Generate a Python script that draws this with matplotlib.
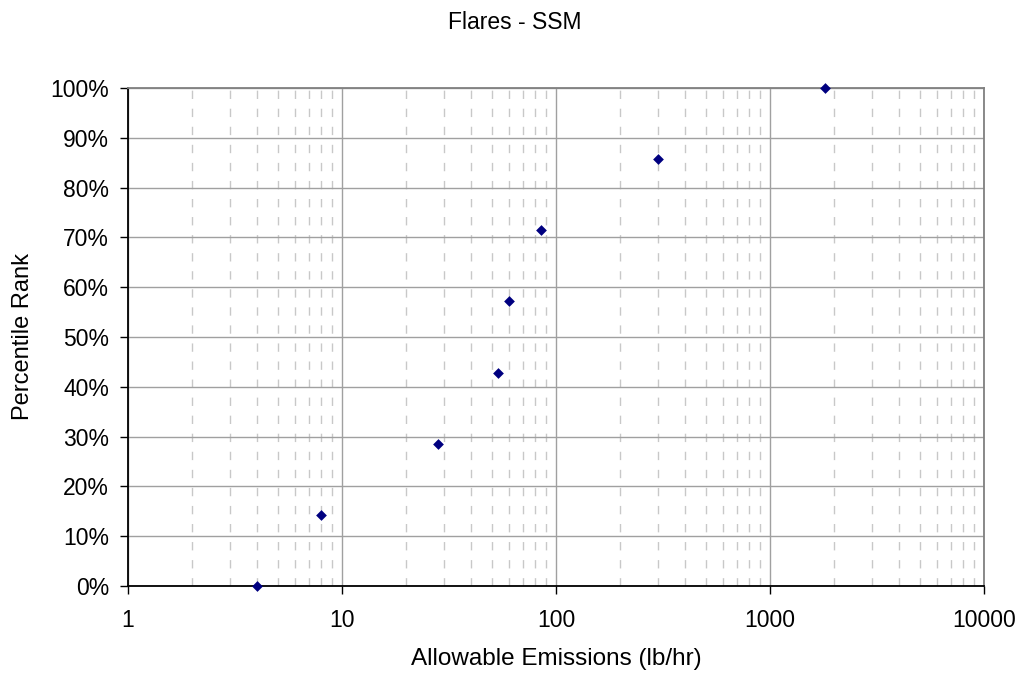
import matplotlib
matplotlib.use("Agg")
import matplotlib.pyplot as plt
from matplotlib.ticker import FixedLocator, FixedFormatter, LogLocator, NullFormatter, PercentFormatter

plt.rcParams['font.family'] = ['Liberation Sans', 'DejaVu Sans']

# Allowable emissions (lb/hr) and their percentile ranks
emissions = [4, 8, 28, 53.5, 60, 85, 300, 1800]
percentile_rank = [0.0, 1/7, 2/7, 3/7, 4/7, 5/7, 6/7, 1.0]

x_ticks = [1, 10, 100, 1000, 10000]
x_tick_labels = ["1", "10", "100", "1000", "10000"]
y_ticks = [i / 10 for i in range(11)]

fig = plt.figure(figsize=(10.23, 6.79), dpi=100)
ax = fig.add_axes([0.1251, 0.137, 0.8368, 0.7334])

ax.set_xscale('log')
ax.set_xlim(1, 10000)
ax.set_ylim(0, 1)

ax.xaxis.set_major_locator(FixedLocator(x_ticks))
ax.xaxis.set_major_formatter(FixedFormatter(x_tick_labels))
ax.xaxis.set_minor_locator(LogLocator(base=10, subs=range(2, 10)))
ax.xaxis.set_minor_formatter(NullFormatter())
ax.yaxis.set_major_locator(FixedLocator(y_ticks))
ax.yaxis.set_major_formatter(PercentFormatter(1.0, decimals=0))

ax.grid(True, which='major', axis='both', color='#a0a0a0', linewidth=1.0)
ax.grid(True, which='minor', axis='x', color='#c8c8c8', linewidth=1.0,
        linestyle=(0, (6, 7)))
ax.set_axisbelow(True)

ax.scatter(emissions, percentile_rank, marker='D', s=30, color='#000080',
           zorder=5, clip_on=False, linewidths=0)

for side in ('top', 'right'):
    ax.spines[side].set_color('#808080')
    ax.spines[side].set_linewidth(1.3)
for side in ('left', 'bottom'):
    ax.spines[side].set_color('black')
    ax.spines[side].set_linewidth(1.3)

ax.tick_params(axis='both', which='major', direction='out', length=5.5,
               width=1, labelsize=16.5, colors='black')
ax.tick_params(axis='y', which='major', pad=8)
ax.tick_params(axis='x', which='major', pad=11)
ax.tick_params(axis='x', which='minor', length=0)

ax.set_xlabel("Allowable Emissions (lb/hr)", fontsize=17.5)
ax.xaxis.label.set_va('center')
ax.xaxis.set_label_coords(0.5, -0.1466)

ax.set_ylabel("Percentile Rank", fontsize=17)
ax.yaxis.label.set_va('center')
ax.yaxis.label.set_ha('center')
ax.yaxis.set_label_coords(-0.1232, 0.5)

fig.text(0.503, 0.9573, "Flares - SSM", ha='center', va='baseline', fontsize=16.5)

fig.savefig("out.png", dpi=100)
